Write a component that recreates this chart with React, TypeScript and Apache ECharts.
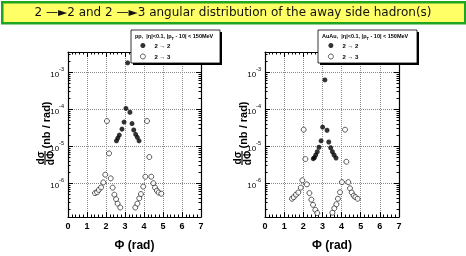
import React, { useEffect, useRef } from "react";
import * as echarts from "echarts";

// ---- data ----
const ppFilledX = [2.55, 2.62, 2.7, 2.84, 2.95, 3.05, 3.14, 3.26, 3.37, 3.46, 3.56, 3.65, 3.74];
const ppFilledY = [1.4e-5, 1.66e-5, 2.0e-5, 2.9e-5, 4.5e-5, 1.05e-4, 1.8e-3, 8.3e-5, 4.1e-5, 2.75e-5, 2.1e-5, 1.74e-5, 1.4e-5];

const ppOpenX = [1.42, 1.53, 1.62, 1.74, 1.86, 1.96, 2.05, 2.16, 2.25, 2.35, 2.44, 2.53, 2.61, 2.75,
  3.54, 3.65, 3.75, 3.84, 3.96, 4.07, 4.16, 4.28, 4.38, 4.49, 4.58, 4.68, 4.77, 4.91];
const ppOpenY = [5.4e-7, 5.7e-7, 6.6e-7, 7.7e-7, 1.05e-6, 1.7e-6, 4.8e-5, 6.4e-6, 1.35e-6, 7.6e-7, 4.9e-7, 3.7e-7, 2.8e-7, 2.2e-7,
  2.2e-7, 2.8e-7, 3.9e-7, 5.1e-7, 8.1e-7, 1.5e-6, 4.8e-5, 5.1e-6, 1.5e-6, 1.0e-6, 7.6e-7, 6.3e-7, 5.6e-7, 5.2e-7];

const auFilledX = [2.52, 2.58, 2.65, 2.73, 2.82, 2.93, 3.01, 3.13, 3.24, 3.33, 3.43, 3.52, 3.61, 3.71];
const auFilledY = [4.6e-6, 4.9e-6, 5.8e-6, 7.1e-6, 9.4e-6, 1.4e-5, 3.3e-5, 6.2e-4, 2.7e-5, 1.3e-5, 9.1e-6, 7.1e-6, 5.8e-6, 4.8e-6];

const auOpenX = [1.41, 1.5, 1.62, 1.74, 1.87, 1.95, 2.02, 2.11, 2.19, 2.32, 2.42, 2.51, 2.63, 2.73,
  3.52, 3.62, 3.73, 3.81, 3.92, 4.02, 4.18, 4.25, 4.35, 4.44, 4.53, 4.63, 4.72, 4.84];
const auOpenY = [3.8e-7, 4.2e-7, 4.9e-7, 5.6e-7, 7.6e-7, 1.2e-6, 2.8e-5, 4.5e-6, 9.3e-7, 5.4e-7, 3.6e-7, 2.6e-7, 1.9e-7, 1.56e-7,
  1.6e-7, 2.1e-7, 2.7e-7, 3.8e-7, 5.7e-7, 1.07e-6, 2.8e-5, 3.8e-6, 1.07e-6, 7.3e-7, 5.6e-7, 4.6e-7, 4.2e-7, 3.8e-7];

const xTicks = [0, 1, 2, 3, 4, 5, 6, 7];
const seriesNames = ["2 → 2", "2 → 3"];
const panelSystems = ["pp,", "AuAu,"];
const headerTail = "  |η|<0.1, |p{sub|T} - 10| < 150MeV";
const titleText = "2 —►2 and 2 —►3 angular distribution of the away side hadron(s)";

const FONT = "Liberation Sans, Arial, Helvetica, sans-serif";
const Y_MIN = 1.22e-7;
const Y_MAX = 3.53e-3;

const zip = (xs: number[], ys: number[]) => xs.map((x, i) => [x, ys[i]]);

const axLine = () => ({ show: true, onZero: false, lineStyle: { color: "#000", width: 1.2 } });
const axTick = () => ({ show: true, inside: true, length: 5, lineStyle: { color: "#000", width: 1 } });
const axMinor = (n: number) => ({ show: true, splitNumber: n, length: 2.5, lineStyle: { color: "#000", width: 1 } });
const gridLine = () => ({ show: true, lineStyle: { color: "#8a8a8a", type: "dotted", width: 1 } });

export default function App() {
  const ref = useRef<HTMLDivElement>(null);
  useEffect(() => {
    if (!ref.current) return;
    const chart = echarts.init(ref.current, null, { renderer: "svg" });

    const grids = [
      { left: 68, top: 52, width: 133, height: 171 },
      { left: 265, top: 52, width: 134, height: 171 },
    ];

    const xAxes: any[] = [];
    const yAxes: any[] = [];
    grids.forEach((_, gi) => {
      xAxes.push({
        type: "value", gridIndex: gi, position: "bottom", min: xTicks[0], max: xTicks[xTicks.length - 1], interval: 1,
        name: "Φ (rad)", nameLocation: "middle", nameGap: 22,
        nameTextStyle: { fontFamily: FONT, fontWeight: "bold", fontSize: 12, color: "#000" },
        axisLine: axLine(), axisTick: axTick(), minorTick: axMinor(5),
        axisLabel: { fontFamily: FONT, fontWeight: "bold", fontSize: 9, color: "#000", margin: 4 },
        splitLine: gridLine(),
      });
      xAxes.push({
        type: "value", gridIndex: gi, position: "top", min: xTicks[0], max: xTicks[xTicks.length - 1], interval: 1,
        axisLine: axLine(), axisTick: axTick(), minorTick: axMinor(5),
        axisLabel: { show: false },
        splitLine: { show: false },
      });
      yAxes.push({
        type: "log", gridIndex: gi, position: "left", min: Y_MIN, max: Y_MAX, logBase: 10,
        axisLine: axLine(), axisTick: axTick(), minorTick: axMinor(9),
        axisLabel: {
          margin: 4,
          formatter: (v: number) => {
            const e = Math.log10(v);
            const r = Math.round(e);
            if (Math.abs(e - r) > 1e-6) return "";
            return `{b|10}{s|${r}}`;
          },
          rich: {
            b: { fontFamily: FONT, fontSize: 8, color: "#000", verticalAlign: "bottom", lineHeight: 12 },
            s: { fontFamily: FONT, fontSize: 5.5, color: "#000", verticalAlign: "top", lineHeight: 12 },
          },
        },
        splitLine: gridLine(),
      });
      yAxes.push({
        type: "log", gridIndex: gi, position: "right", min: Y_MIN, max: Y_MAX, logBase: 10,
        axisLine: axLine(), axisTick: axTick(), minorTick: axMinor(9),
        axisLabel: { show: false },
        splitLine: { show: false },
      });
    });

    const filledStyle = { color: "#000" };
    const openStyle = { color: "#fff", borderColor: "#000", borderWidth: 0.8 };
    const series: any[] = [
      { name: seriesNames[0], type: "scatter", xAxisIndex: 0, yAxisIndex: 0, symbol: "circle", symbolSize: 5, itemStyle: filledStyle, data: zip(ppFilledX, ppFilledY) },
      { name: seriesNames[1], type: "scatter", xAxisIndex: 0, yAxisIndex: 0, symbol: "circle", symbolSize: 5, itemStyle: openStyle, data: zip(ppOpenX, ppOpenY) },
      { name: seriesNames[0], type: "scatter", xAxisIndex: 2, yAxisIndex: 2, symbol: "circle", symbolSize: 5, itemStyle: filledStyle, data: zip(auFilledX, auFilledY) },
      { name: seriesNames[1], type: "scatter", xAxisIndex: 2, yAxisIndex: 2, symbol: "circle", symbolSize: 5, itemStyle: openStyle, data: zip(auOpenX, auOpenY) },
    ];

    const legendBoxes = [
      { x: 131, y: 30, w: 89, h: 33, sys: panelSystems[0] },
      { x: 318, y: 30, w: 99, h: 33, sys: panelSystems[1] },
    ];

    const graphics: any[] = [
      {
        type: "rect", left: 1, top: 1, z: 10,
        shape: { width: 463, height: 21 },
        style: { fill: "#ffff66", stroke: "#1fa51f", lineWidth: 2.5 },
      },
      {
        type: "text", x: 233, y: 12, z: 11,
        style: { text: titleText, fontFamily: "DejaVu Sans", fontSize: 12, fill: "#111", align: "center", verticalAlign: "middle" },
      },
    ];
    legendBoxes.forEach((b) => {
      graphics.push({ type: "rect", x: b.x + 2, y: b.y + 2, z: 5, shape: { width: b.w, height: b.h }, style: { fill: "#000" } });
      graphics.push({ type: "rect", x: b.x, y: b.y, z: 6, shape: { width: b.w, height: b.h }, style: { fill: "#fff", stroke: "#000", lineWidth: 0.8 } });
      graphics.push({
        type: "text", x: b.x + 4, y: b.y + 6, z: 7,
        style: {
          text: `{m|${b.sys}${headerTail}}`.replace("{sub|T}", "}{sub|T}{m|"),
          verticalAlign: "middle",
          rich: {
            m: { fontFamily: FONT, fontWeight: "bold", fontSize: 5.5, fill: "#000", verticalAlign: "middle", lineHeight: 8 },
            sub: { fontFamily: FONT, fontWeight: "bold", fontSize: 4, fill: "#000", verticalAlign: "bottom", lineHeight: 8 },
          },
        },
      });
    });
    [45, 242].forEach((cx) => {
      graphics.push({
        type: "group", x: cx, y: 158, rotation: Math.PI / 2, z: 8,
        children: [
          { type: "line", shape: { x1: -7, y1: 0, x2: 7, y2: 0 }, style: { stroke: "#000", lineWidth: 1.2 } },
          { type: "text", x: 0, y: -5, style: { text: "dσ", fontFamily: FONT, fontWeight: "bold", fontSize: 10, fill: "#000", align: "center", verticalAlign: "middle" } },
          { type: "text", x: 0, y: 5.5, style: { text: "dΦ", fontFamily: FONT, fontWeight: "bold", fontSize: 10, fill: "#000", align: "center", verticalAlign: "middle" } },
          { type: "text", x: 33, y: 1, style: { text: "(nb / rad)", fontFamily: FONT, fontWeight: "bold", fontSize: 11, fill: "#000", align: "center", verticalAlign: "middle" } },
        ],
      });
    });

    const legendBase = {
      orient: "vertical", itemWidth: 5, itemHeight: 5, itemGap: 4, z: 9, padding: 0,
      data: seriesNames, icon: "circle", selectedMode: false,
      itemStyle: { borderWidth: 0.8 },
      textStyle: { fontFamily: FONT, fontWeight: "bold", fontSize: 6, color: "#000", padding: [0, 0, 0, 4], lineHeight: 7 },
    };

    chart.setOption({
      animation: false,
      grid: grids,
      xAxis: xAxes,
      yAxis: yAxes,
      series,
      legend: [
        { ...legendBase, left: 140, top: 42 },
        { ...legendBase, left: 328, top: 42 },
      ],
      graphic: graphics,
    });
    return () => chart.dispose();
  }, []);
  return <div ref={ref} style={{ position: "fixed", left: 0, top: 0, width: 466, height: 256 }} />;
}
